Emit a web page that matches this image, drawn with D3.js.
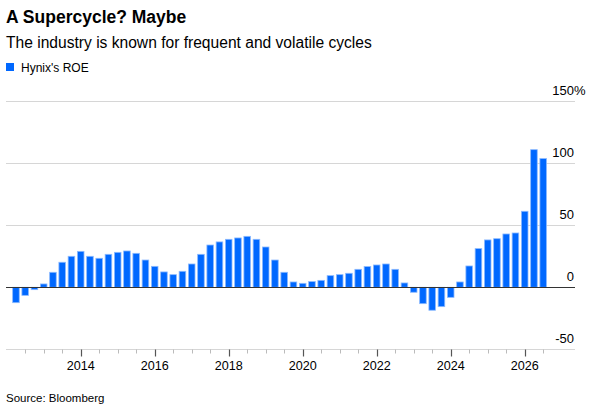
<!DOCTYPE html>
<html>
<head>
<meta charset="utf-8">
<script src="https://cdn.jsdelivr.net/npm/d3@7"></script>
<style>
  body { margin: 0; background: #fff; }
  svg { font-family: "Liberation Sans", Arial, sans-serif; }
</style>
</head>
<body>
<div id="chart"></div>
<script>
// Hynix quarterly ROE (%), first bar = Q2 2012
const startYear = 2012.25;
const roe = [
  -12.4, -6.5, -1.9, 2.7, 12.1, 20.2, 25, 29,
  25, 23.4, 26.6, 28.2, 29.3, 27.4, 22, 16.9,
  12.4, 10.2, 12.9, 18.8, 26.6, 34.1, 36.6, 38.7,
  39.8, 41.1, 38.7, 32.5, 22, 12.1, 4.3, 3.2,
  4.6, 5.6, 9.4, 10.2, 11.3, 14.5, 16.7, 18,
  18.8, 14.5, 3.5, -4, -13.2, -18.5, -15.6, -8.1,
  4.3, 17.2, 31.2, 38.2, 39.2, 43, 43.8, 61.3,
  111, 103.8
];
const yTicks = [-50, 0, 50, 100, 150];
const yearLabels = [2014, 2016, 2018, 2020, 2022, 2024, 2026];

const data = roe.map((v, i) => ({ t: startYear + i / 4, v: v }));

const W = 594, H = 412;
const svg = d3.select("#chart").append("svg")
    .attr("width", W)
    .attr("height", H);

// Title block
svg.append("text").attr("x", 6).attr("y", 23)
    .style("font-size", "17.5px").style("font-weight", "bold").style("fill", "#000")
    .text("A Supercycle? Maybe");
svg.append("text").attr("x", 6).attr("y", 48)
    .style("font-size", "15.6px").style("fill", "#000")
    .text("The industry is known for frequent and volatile cycles");
svg.append("rect").attr("x", 6).attr("y", 63).attr("width", 8).attr("height", 8)
    .attr("fill", "#0068ff");
svg.append("text").attr("x", 21).attr("y", 71.5)
    .style("font-size", "12px").style("fill", "#000")
    .text("Hynix's ROE");

// Scales
const x = d3.scaleLinear()
    .domain([2014, 2026])
    .range([80.7, 524.7]);
const y = d3.scaleLinear()
    .domain([-50, 150])
    .range([349.3, 101.3]);
const left = 6, right = 575;

// Gridlines + y labels
const grid = svg.append("g");
grid.selectAll("line")
    .data(yTicks)
    .join("line")
    .attr("x1", left).attr("x2", right)
    .attr("y1", d => Math.round(y(d)) + 0.5).attr("y2", d => Math.round(y(d)) + 0.5)
    .attr("stroke", "#d6d6d6").attr("stroke-width", 1);

const yLabels = grid.selectAll("text")
    .data(yTicks)
    .join("text")
    .attr("x", 574)
    .attr("y", d => y(d) - 6)
    .attr("text-anchor", "end")
    .style("font-size", "13px").style("fill", "#000")
    .text(d => d);

// top label: "%" hangs outside the right alignment of the numbers
yLabels.filter(d => d === 150)
    .attr("text-anchor", "start")
    .each(function(d) {
      const self = d3.select(this);
      self.text(null);
      self.append("tspan").attr("class", "num").text(d);
      const w = self.select(".num").node().getComputedTextLength();
      self.attr("x", 574 - w);
      self.append("tspan").text("%");
    });

// Bars
const bw = 6.6;
svg.append("g")
    .selectAll("rect")
    .data(data)
    .join("rect")
    .attr("x", d => x(d.t) - bw / 2)
    .attr("width", bw)
    .attr("y", d => y(Math.max(0, d.v)))
    .attr("height", d => Math.abs(y(d.v) - y(0)))
    .attr("fill", "#0068ff")
    .attr("stroke", "#8cbaff")
    .attr("stroke-width", 0.8);

// Zero line
svg.append("line")
    .attr("x1", left).attr("x2", right)
    .attr("y1", Math.round(y(0)) + 0.5).attr("y2", Math.round(y(0)) + 0.5)
    .attr("stroke", "#333").attr("stroke-width", 1);

// X axis ticks (half-year minor, two-year major)
const tickVals = d3.range(2012.5, 2027, 0.5);
const xAxis = svg.append("g").attr("transform", `translate(0,${Math.round(y(-50)) + 0.5})`);
xAxis.selectAll("line")
    .data(tickVals)
    .join("line")
    .attr("x1", d => Math.round(x(d)) + 0.5).attr("x2", d => Math.round(x(d)) + 0.5)
    .attr("y1", 0)
    .attr("y2", d => yearLabels.includes(d) ? 7 : 4)
    .attr("stroke", d => yearLabels.includes(d) ? "#555" : "#bbb")
    .attr("stroke-width", d => yearLabels.includes(d) ? 1.2 : 1);
xAxis.selectAll("text")
    .data(yearLabels)
    .join("text")
    .attr("x", d => x(d))
    .attr("y", 20)
    .attr("text-anchor", "middle")
    .style("font-size", "12.6px").style("fill", "#000")
    .text(d => d);

// Source
svg.append("text").attr("x", 6).attr("y", 402)
    .style("font-size", "11.5px").style("fill", "#000")
    .text("Source: Bloomberg");
</script>
</body>
</html>
